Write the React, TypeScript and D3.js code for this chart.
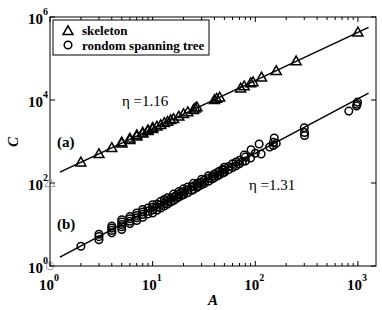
import React, { useRef, useEffect } from 'react';
import * as d3 from 'd3';

// skeleton (triangles)
const triA = [2, 3, 4, 5, 5, 6, 6, 7, 7, 8, 8, 9, 9, 10, 10, 11, 12, 13, 14, 15, 16, 18, 20, 22, 25, 26, 27, 40, 42, 45, 72, 78, 90, 95, 115, 160, 250, 1000];
const triC = [315, 500, 700, 900, 960, 1100, 1180, 1330, 1420, 1560, 1650, 1800, 1880, 2000, 2150, 2300, 2500, 2800, 3000, 3300, 3500, 4000, 4600, 5100, 5800, 6300, 6700, 10000, 10800, 11500, 19000, 21500, 25500, 27000, 35000, 50000, 86000, 425000];

// random spanning tree (circles)
const circA = [2, 3, 3, 3, 4, 4, 4, 4, 5, 5, 5, 5, 5, 6, 6, 6, 6, 7, 7, 7, 7, 8, 8, 8, 8, 9, 9, 9, 10, 10, 10, 10, 11, 11, 11, 12, 12, 12, 13, 13, 13, 14, 14, 14, 15, 15, 16, 16, 16, 17, 17, 18, 18, 18, 19, 19, 20, 20, 20, 22, 22, 22, 24, 24, 25, 25, 25, 27, 27, 28, 28, 30, 30, 30, 32, 32, 35, 35, 35, 38, 38, 40, 40, 43, 43, 45, 45, 48, 48, 50, 50, 50, 55, 55, 60, 60, 65, 65, 70, 70, 75, 78, 80, 80, 91, 90, 100, 109, 114, 138, 150, 150, 153, 160, 300, 302, 302, 815, 970, 980, 990];
const circC = [3.0, 4.3, 5.1, 5.8, 6.3, 7.2, 8.2, 9.2, 7.6, 8.8, 10, 11.4, 13, 10.5, 12, 13.8, 15.5, 12.5, 14.5, 16.5, 19, 15, 17.5, 20, 23, 18, 21, 25, 19, 22.5, 26, 30, 22, 26, 31, 25, 30, 36, 28, 33, 40, 31, 37, 44, 35, 42, 38, 46, 54, 42, 50, 46, 54, 62, 50, 60, 52, 62, 72, 58, 68, 80, 66, 80, 70, 84, 98, 78, 94, 85, 100, 90, 105, 122, 98, 118, 110, 130, 150, 125, 145, 135, 165, 150, 180, 160, 195, 175, 210, 180, 205, 240, 210, 250, 235, 290, 260, 320, 290, 350, 330, 470, 340, 420, 630, 400, 520, 870, 500, 740, 800, 950, 1210, 900, 2150, 1650, 1400, 5400, 7200, 7900, 8900];

// points at A = 1 sitting on the axis
const edgeTri = { A: 1, C: 100 };
const edgeCirc = { A: 1, C: 1 };

// fitted power laws, endpoints
const fitA = [1.25, 1270];
const fitSkeleton = [183, 562000];
const fitTree = [1.63, 14600];

const xTicks = [1, 10, 100, 1000];
const yTicks = [1, 100, 10000, 1000000];

const App = () => {
  const chartRef = useRef(null);

  useEffect(() => {
    drawChart();
  }, []);

  const drawChart = () => {
    const svg = d3.select(chartRef.current);
    svg.selectAll('*').remove();

    const left = 50, right = 376, top = 17, bottom = 266;
    const serif = "'Liberation Serif', 'Times New Roman', serif";

    const x = d3.scaleLog().domain([1, 1500]).range([left, right]);
    const y = d3.scaleLog().domain([1, 1e6]).range([bottom, top]);

    svg.append('rect').attr('width', 382).attr('height', 310).attr('fill', '#fff');

    // ticks
    const g = svg.append('g').attr('stroke', '#000').attr('stroke-width', 1);
    const minor = [];
    xTicks.forEach(d => { for (let k = 2; k <= 9; k++) if (d * k <= 1500) minor.push(d * k); });
    minor.forEach(v => {
      g.append('line').attr('x1', x(v)).attr('x2', x(v)).attr('y1', bottom).attr('y2', bottom - 3);
      g.append('line').attr('x1', x(v)).attr('x2', x(v)).attr('y1', top).attr('y2', top + 3);
    });
    xTicks.forEach(v => {
      g.append('line').attr('x1', x(v)).attr('x2', x(v)).attr('y1', bottom).attr('y2', bottom - 5);
      g.append('line').attr('x1', x(v)).attr('x2', x(v)).attr('y1', top).attr('y2', top + 5);
    });
    yTicks.forEach(v => {
      g.append('line').attr('x1', left).attr('x2', left + 5).attr('y1', y(v)).attr('y2', y(v));
      g.append('line').attr('x1', right).attr('x2', right - 5).attr('y1', y(v)).attr('y2', y(v));
    });

    // frame
    svg.append('rect')
      .attr('x', left).attr('y', top)
      .attr('width', right - left).attr('height', bottom - top)
      .attr('fill', 'none').attr('stroke', '#000').attr('stroke-width', 1);

    // tick labels
    const label = (sel, v) => {
      const e = Math.round(Math.log10(v));
      sel.append('tspan').text('10');
      sel.append('tspan').attr('dy', -9).attr('font-size', 10).text(e);
    };
    xTicks.forEach(v => {
      const t = svg.append('text')
        .attr('x', x(v) - 1).attr('y', 290)
        .attr('text-anchor', 'middle')
        .attr('font-family', serif).attr('font-weight', 'bold').attr('font-size', 15);
      label(t, v);
    });
    yTicks.forEach(v => {
      const t = svg.append('text')
        .attr('x', 48).attr('y', y(v) + 7)
        .attr('text-anchor', 'end')
        .attr('font-family', serif).attr('font-weight', 'bold').attr('font-size', 15);
      label(t, v);
    });

    // axis titles
    svg.append('text')
      .attr('x', 213).attr('y', 305)
      .attr('text-anchor', 'middle')
      .attr('font-family', serif).attr('font-weight', 'bold').attr('font-style', 'italic').attr('font-size', 15)
      .text('A');
    svg.append('text')
      .attr('transform', 'translate(18,142) rotate(-90)')
      .attr('text-anchor', 'middle')
      .attr('font-family', serif).attr('font-weight', 'bold').attr('font-style', 'italic').attr('font-size', 15)
      .text('C');

    // fit lines
    const line = d3.line().x(d => x(d[0])).y(d => y(d[1]));
    [fitSkeleton, fitTree].forEach(fit => {
      svg.append('path')
        .attr('d', line(fitA.map((a, i) => [a, fit[i]])))
        .attr('fill', 'none').attr('stroke', '#000').attr('stroke-width', 1.5);
    });

    const triPath = 'M0,-5.2L5,3.6L-5,3.6Z';

    // markers
    svg.append('g').selectAll('circle')
      .data(circA.map((a, i) => [a, circC[i]]))
      .enter().append('circle')
      .attr('cx', d => x(d[0])).attr('cy', d => y(d[1])).attr('r', 3.8)
      .attr('fill', 'none').attr('stroke', '#000').attr('stroke-width', 1.5);

    svg.append('g').selectAll('path')
      .data(triA.map((a, i) => [a, triC[i]]))
      .enter().append('path')
      .attr('d', triPath)
      .attr('transform', d => `translate(${x(d[0])},${y(d[1])})`)
      .attr('fill', 'none').attr('stroke', '#000').attr('stroke-width', 1.5);

    svg.append('path')
      .attr('d', triPath)
      .attr('transform', `translate(${x(edgeTri.A)},${y(edgeTri.C)})`)
      .attr('fill', 'none').attr('stroke', '#888').attr('stroke-width', 0.8);
    svg.append('circle')
      .attr('cx', x(edgeCirc.A)).attr('cy', y(edgeCirc.C)).attr('r', 3.8)
      .attr('fill', 'none').attr('stroke', '#888').attr('stroke-width', 0.8);

    // annotations
    svg.append('text').attr('x', 122).attr('y', 106)
      .attr('font-family', serif).attr('font-size', 15).text('η =1.16');
    svg.append('text').attr('x', 249).attr('y', 190)
      .attr('font-family', serif).attr('font-size', 15).text('η =1.31');
    svg.append('text').attr('x', 57).attr('y', 147)
      .attr('font-family', serif).attr('font-weight', 'bold').attr('font-size', 15).text('(a)');
    svg.append('text').attr('x', 57).attr('y', 229)
      .attr('font-family', serif).attr('font-weight', 'bold').attr('font-size', 15).text('(b)');

    // legend
    const lg = svg.append('g');
    lg.append('rect').attr('x', 53).attr('y', 20).attr('width', 156).attr('height', 35)
      .attr('fill', '#fff').attr('stroke', '#000').attr('stroke-width', 1);
    lg.append('path').attr('d', triPath).attr('transform', 'translate(68,31)')
      .attr('fill', 'none').attr('stroke', '#000').attr('stroke-width', 1.5);
    lg.append('circle').attr('cx', 68).attr('cy', 45).attr('r', 3.8)
      .attr('fill', 'none').attr('stroke', '#000').attr('stroke-width', 1.5);
    lg.append('text').attr('x', 82).attr('y', 35)
      .attr('font-family', serif).attr('font-weight', 'bold').attr('font-size', 13).text('skeleton');
    lg.append('text').attr('x', 82).attr('y', 50)
      .attr('font-family', serif).attr('font-weight', 'bold').attr('font-size', 13).text('rondom spanning tree');
  };

  return (
    <svg ref={chartRef} width={382} height={310}
      style={{ position: 'absolute', left: 0, top: 0 }} />
  );
};

export default App;
